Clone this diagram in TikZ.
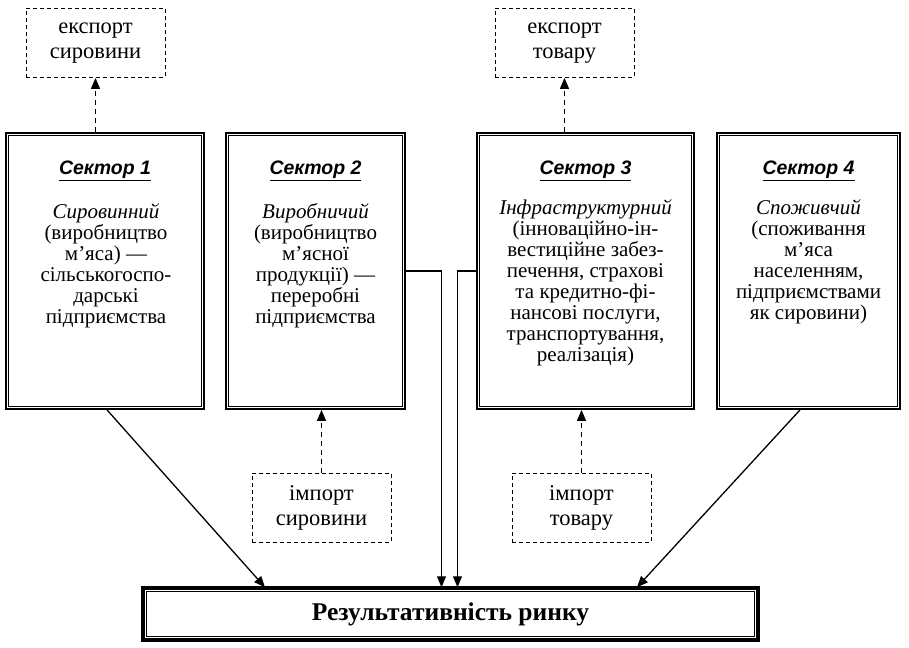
\documentclass[tikz,border=0pt]{standalone}
\usepackage{fontspec}
\setmainfont{Liberation Serif}
\newfontfamily\headfont{Liberation Sans}
\usetikzlibrary{arrows.meta}
\tikzset{
  sectorbox/.style={draw, line width=1.8pt, minimum width=#1, minimum height=276pt, inner sep=0pt},
  headtxt/.style={font=\headfont\fontsize{19.5}{22}\selectfont\bfseries\itshape, inner sep=0pt},
  bodytxt/.style={font=\fontsize{21}{21}\selectfont, align=center, anchor=north, inner sep=0pt},
  dashbox/.style={draw, dashed, dash pattern=on 4pt off 3pt, line width=0.8pt, minimum width=139pt, minimum height=69pt, align=center, font=\fontsize{22.5}{25}\selectfont, inner sep=0pt},
  dasharrow/.style={dash pattern=on 5pt off 4pt, line width=1.4pt, -{Triangle[length=11pt,width=9pt]}},
  solidarrow/.style={line width=1.3pt, -{Triangle[length=11pt,width=9pt]}},
  innerline/.style={line width=0.8pt}
}
\begin{document}
\begin{tikzpicture}[x=1pt,y=-1pt]
\useasboundingbox (0,0) rectangle (909,647);
% sectors
\node[sectorbox=198pt] (s1) at (105,271) {};
\node[sectorbox=179pt] (s2) at (315.5,271) {};
\node[sectorbox=217pt] (s3) at (585.5,271) {};
\node[sectorbox=183pt] (s4) at (808.5,271) {};
\foreach \s in {s1,s2,s3,s4}{
  \draw[innerline] ([shift={(3.2pt,-3.2pt)}]\s.north west) rectangle ([shift={(-3.2pt,3.2pt)}]\s.south east);
}
% headings
\node[headtxt] (h1) at (105,171) {\underline{Сектор 1}};
\node[headtxt] (h2) at (315.5,171) {\underline{Сектор 2}};
\node[headtxt] (h3) at (585.5,171) {\underline{Сектор 3}};
\node[headtxt] (h4) at (808.5,171) {\underline{Сектор 4}};
% bodies
\node[bodytxt] (b1) at (106,203) {\textit{Сировинний}\\(виробництво\\м’яса) —\\сільськогоспо-\\дарські\\підприємства};
\node[bodytxt] (b2) at (315.5,203) {\textit{Виробничий}\\(виробництво\\м’ясної\\продукції) —\\переробні\\підприємства};
\node[bodytxt] (b3) at (585.5,199) {\textit{Інфраструктурний}\\(інноваційно-ін-\\вестиційне забез-\\печення, страхові\\та кредитно-фі-\\нансові послуги,\\транспортування,\\реалізація)};
\node[bodytxt] (b4) at (808.5,199) {\textit{Споживчий}\\(споживання\\м’яса\\населенням,\\підприємствами\\як сировини)};
% dashed boxes
\node[dashbox] (e1) at (95.5,43) {експорт\\сировини};
\node[dashbox] (e2) at (564.5,43) {експорт\\товару};
\node[dashbox] (i1) at (321.5,507.5) {імпорт\\сировини};
\node[dashbox] (i2) at (581.5,507.5) {імпорт\\товару};
% result
\node[draw, line width=3.5pt, minimum width=615pt, minimum height=52pt, inner sep=0pt,
      font=\fontsize{25.5}{27}\selectfont\bfseries] (res) at (450.5,614) {Результативність ринку};
\draw[innerline] ([shift={(5pt,-5pt)}]res.north west) rectangle ([shift={(-5pt,5pt)}]res.south east);
% dashed arrows
\draw[dasharrow] (e1.south |- s1.north) -- (e1.south);
\draw[dasharrow] (e2.south |- s3.north) -- (e2.south);
\draw[dasharrow] (i1.north) -- (i1.north |- s2.south);
\draw[dasharrow] (i2.north) -- (i2.north |- s3.south);
% solid arrows
\draw[solidarrow] ([xshift=2pt]s1.south) -- ([xshift=-185.5pt,yshift=-1pt]res.north);
\draw[solidarrow] ([xshift=-8.5pt]s4.south) -- ([xshift=186.5pt,yshift=-1pt]res.north);
\draw[solidarrow] (s2.east) -| ([xshift=-9pt,yshift=-1pt]res.north);
\draw[solidarrow] (s3.west) -| ([xshift=7pt,yshift=-1pt]res.north);
\end{tikzpicture}
\end{document}
